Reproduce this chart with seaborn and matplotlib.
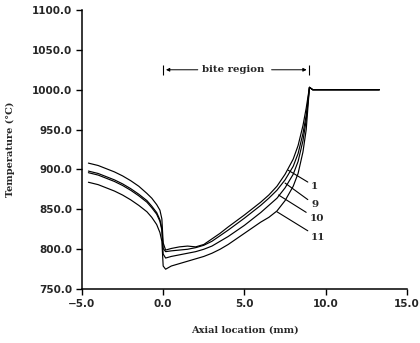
import numpy as np
import pandas as pd
import matplotlib
matplotlib.use("Agg")
import matplotlib.pyplot as plt
import seaborn as sns

# ---- data ----
x_mm = [-4.6, -4.0, -3.5, -3.0, -2.5, -2.0, -1.5, -1.0, -0.7, -0.4, -0.2, -0.08, 0.0, 0.15,
        0.5, 1.0, 1.5, 2.0, 2.5, 3.0, 3.5, 4.0, 5.0, 6.0, 6.5, 7.0, 7.5, 8.0, 8.3, 8.6,
        8.8, 9.0, 9.2, 10.0, 11.0, 12.0, 13.3]

case_1 = [908, 905, 901, 897, 892, 886, 879, 870, 864, 856, 849, 838, 808, 799,
          801, 803, 804, 803, 806, 813, 820, 828, 843, 859, 868, 879, 894, 913, 930, 955,
          977, 1003, 1000, 1000, 1000, 1000, 1000]
case_9 = [898, 895, 891, 887, 882, 876, 869, 861, 854, 846, 837, 826, 801, 797,
          798, 799, 800, 802, 805, 810, 817, 824, 839, 855, 864, 874, 887, 904, 920, 945,
          968, 1003, 1000, 1000, 1000, 1000, 1000]
case_10 = [896, 893, 889, 885, 880, 874, 867, 859, 852, 844, 835, 824, 794, 789,
           791, 793, 795, 797, 800, 804, 810, 816, 830, 846, 855, 864, 877, 894, 910, 936,
           962, 1003, 1000, 1000, 1000, 1000, 1000]
case_11 = [884, 881, 877, 873, 868, 862, 855, 847, 840, 831, 821, 810, 779, 775,
           779, 782, 785, 788, 791, 795, 800, 806, 820, 834, 840, 848, 861, 879, 895, 922,
           950, 1003, 1000, 1000, 1000, 1000, 1000]

case_names = ["1", "9", "10", "11"]
x_ticks = [-5.0, 0.0, 5.0, 10.0, 15.0]
y_ticks = [750.0, 800.0, 850.0, 900.0, 950.0, 1000.0, 1050.0, 1100.0]

# label leader lines: (curve point x, y) -> (label x, y)
label_from_x = [7.7, 7.5, 7.1, 7.0]
label_from_y = [899, 883, 868, 847]
label_to_x = [9.0, 9.0, 8.9, 9.0]
label_to_y = [879, 856, 838, 815]

bite_start, bite_end, bite_level = 0.0, 9.0, 1025

# ---- build table ----
rows = []
for name, vals in zip(case_names, [case_1, case_9, case_10, case_11]):
    for xv, tv in zip(x_mm, vals):
        rows.append({"x": xv, "T": tv, "case": name})
df = pd.DataFrame(rows)

sns.set_style("ticks")
plt.rcParams["font.family"] = ["DejaVu Sans"]

fig = plt.figure(figsize=(4.2, 3.43), dpi=100)
ax = fig.add_axes([0.195, 0.157, 0.774, 0.814])

sns.lineplot(data=df, x="x", y="T", hue="case", units="case", estimator=None,
             palette=["black"] * 4, legend=False, sort=False, lw=0.85, ax=ax)

ax.set_xlim(-5, 15)
ax.set_ylim(750, 1100)
ax.set_xticks(x_ticks)
ax.set_yticks(y_ticks)
ax.set_xticklabels([f"{v:.1f}".replace("-", "\u2212") for v in x_ticks],
                   fontsize=7.5, fontweight="bold")
ax.set_yticklabels([f"{v:.1f}" for v in y_ticks], fontsize=7.5, fontweight="bold")
ax.tick_params(direction="out", length=4, width=1, color="black", pad=3)
sns.despine(ax=ax)
for s in ["left", "bottom"]:
    ax.spines[s].set_linewidth(1.1)
    ax.spines[s].set_color("black")

serif = ["DejaVu Serif"]
ax.set_xlabel("Axial location (mm)", fontsize=7, fontweight="bold", family=serif, labelpad=12)
ax.set_ylabel("Temperature (\u00b0C)", fontsize=7, fontweight="bold", family=serif, labelpad=12)

# bite region annotation
mid = (bite_start + bite_end) / 2 - 0.2
ax.text(mid, bite_level, "bite region", ha="center", va="center", fontsize=7.3,
        fontweight="bold", family=serif)
ax.annotate("", xy=(bite_start, bite_level), xytext=(mid - 2.0, bite_level),
            arrowprops=dict(arrowstyle="-|>", lw=0.7, color="black", mutation_scale=5))
ax.annotate("", xy=(bite_end, bite_level), xytext=(mid + 2.2, bite_level),
            arrowprops=dict(arrowstyle="-|>", lw=0.7, color="black", mutation_scale=5))
ax.vlines([bite_start, bite_end], bite_level - 6, bite_level + 6, color="black", lw=0.8)

# case labels
for name, fx, fy, tx, ty in zip(case_names, label_from_x, label_from_y, label_to_x, label_to_y):
    ax.annotate(name, xy=(fx, fy), xytext=(tx + 0.1, ty), fontsize=7.5, fontweight="bold",
                family=serif, ha="left", va="center",
                arrowprops=dict(arrowstyle="-", lw=0.8, color="black", shrinkA=0, shrinkB=0))

fig.savefig("out.png", dpi=100)
